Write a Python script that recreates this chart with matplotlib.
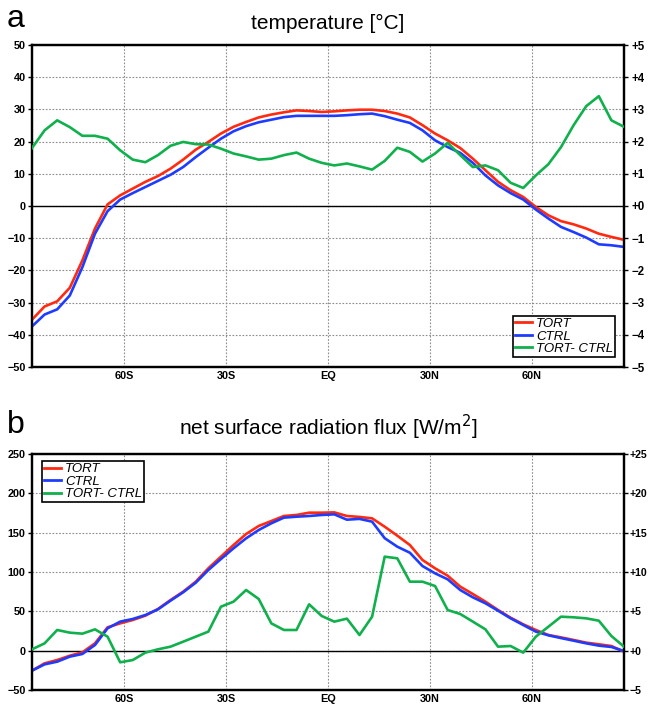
import numpy as np
import matplotlib
matplotlib.use("Agg")
import matplotlib.pyplot as plt
from matplotlib.lines import Line2D
from matplotlib.ticker import FuncFormatter

plt.rcParams['font.family'] = ['Liberation Sans', 'DejaVu Sans']

# latitude grid (48 points, ~3.7 deg apart)
lat = np.linspace(-87.1, 87.1, 48)

# panel a: surface temperature [degC]
tort_t = [-35.3, -31.2, -29.6, -25.4, -16.9, -7.0, 0.5, 3.3, 5.4, 7.5, 9.3, 11.6,
          14.4, 17.5, 19.9, 22.5, 24.6, 26.1, 27.5, 28.4, 29.1, 29.7, 29.5, 29.2,
          29.4, 29.7, 29.9, 29.9, 29.5, 28.7, 27.5, 25.1, 22.5, 20.4, 18.0, 14.7,
          11.1, 7.5, 4.9, 2.8, -0.3, -2.9, -4.7, -5.7, -7.0, -8.6, -9.6, -10.5]
ctrl_t = [-37.4, -33.7, -32.1, -27.8, -19.0, -8.6, -1.6, 2.0, 4.0, 5.9, 7.8, 9.7,
          12.1, 15.2, 18.1, 20.9, 23.2, 24.8, 26.0, 26.8, 27.6, 28.0, 28.0, 28.0,
          28.0, 28.2, 28.5, 28.7, 27.9, 26.8, 25.8, 23.5, 20.4, 18.3, 16.5, 13.4,
          9.5, 6.4, 4.0, 2.0, -1.1, -3.9, -6.5, -8.1, -9.8, -11.9, -12.2, -12.7]
diff_t = [1.80, 2.35, 2.66, 2.45, 2.18, 2.18, 2.09, 1.73, 1.44, 1.36, 1.58, 1.87,
          1.99, 1.92, 1.91, 1.78, 1.63, 1.54, 1.44, 1.47, 1.58, 1.66, 1.47, 1.34,
          1.26, 1.32, 1.23, 1.13, 1.40, 1.81, 1.68, 1.38, 1.63, 1.96, 1.58, 1.21,
          1.26, 1.11, 0.72, 0.56, 0.95, 1.30, 1.83, 2.51, 3.10, 3.41, 2.66, 2.46]

# panel b: net surface radiation flux [W/m2]
tort_r = [-25.4, -16.1, -11.9, -6.4, -2.1, 9.3, 29.7, 34.7, 39.0, 44.5, 53.0, 64.4,
          75.0, 87.7, 104.7, 119.5, 134.3, 148.3, 158.5, 164.8, 171.2, 172.5, 175.4, 175.4,
          175.8, 171.2, 170.0, 168.2, 157.6, 146.2, 134.3, 115.3, 104.7, 95.3, 81.4, 72.0,
          62.3, 51.7, 41.9, 33.5, 26.3, 19.9, 16.9, 13.6, 10.2, 8.1, 5.9, -1.3]
ctrl_r = [-25.4, -17.4, -14.0, -7.6, -4.2, 7.2, 28.4, 36.9, 40.3, 45.3, 52.5, 63.6,
          74.2, 86.4, 102.5, 116.5, 130.1, 142.8, 153.4, 161.9, 169.1, 170.3, 171.2, 172.5,
          173.3, 166.5, 167.5, 164.0, 143.0, 132.2, 124.5, 107.6, 98.3, 90.7, 77.1, 67.8,
          60.2, 50.8, 41.1, 32.6, 24.2, 19.5, 16.0, 12.7, 9.3, 6.4, 4.7, -0.5]
diff_r = [0.17, 0.93, 2.63, 2.29, 2.16, 2.71, 1.78, -1.48, -1.19, -0.25, 0.17, 0.51,
          1.14, 1.78, 2.42, 5.59, 6.23, 7.71, 6.57, 3.47, 2.63, 2.63, 5.89, 4.41,
          3.69, 4.07, 1.99, 4.32, 11.95, 11.74, 8.77, 8.77, 8.22, 5.17, 4.66, 3.69,
          2.71, 0.51, 0.59, -0.25, 1.78, 3.05, 4.32, 4.24, 4.11, 3.81, 1.86, 0.51]

xticks = [-60, -30, 0, 30, 60]
xlabels = ['60S', '30S', 'EQ', '30N', '60N']

RED, BLUE, GREEN = '#ff2a10', '#1e3cff', '#10b04c'
W, H = 649, 704


def fmt_left(v, pos):
    return f"{int(round(v))}".replace('-', '\u2212')


def fmt_right(v, pos):
    return f"{int(round(v)):+d}".replace('-', '\u2212')


def panel(rect, letter, title, tort, ctrl, diff, ylim, ystep, ylim2,
          leg_loc, leg_anchor, title_off, letter_off, rsize, rpad):
    ax = fig.add_axes(rect)
    ax.plot(lat, tort, color=RED, lw=1.9, zorder=3)
    ax.plot(lat, ctrl, color=BLUE, lw=1.9, zorder=3)
    ax.axhline(0, color='black', lw=1.0, zorder=2)
    ax.set_xlim(-87.1, 87.1)
    ax.set_ylim(*ylim)
    ax.set_yticks(np.arange(ylim[0], ylim[1] + 1, ystep))
    ax.set_xticks(xticks)
    ax.set_xticklabels(xlabels)
    ax.yaxis.set_major_formatter(FuncFormatter(fmt_left))
    ax.grid(True, color='#8c8c8c', lw=0.8, ls=(0, (1.5, 1.5)))
    ax.tick_params(axis='x', length=0, pad=3, labelsize=7.8)
    ax.tick_params(axis='y', direction='out', length=3, width=1, pad=1.5, labelsize=7.8)
    for lab in ax.get_xticklabels() + ax.get_yticklabels():
        lab.set_fontweight('bold')
    for s in ax.spines.values():
        s.set_linewidth(1.6)

    ax2 = ax.twinx()
    ax2.plot(lat, diff, color=GREEN, lw=1.9, zorder=3)
    ax2.set_ylim(*ylim2)
    ax2.set_yticks(np.linspace(ylim2[0], ylim2[1], len(ax.get_yticks())))
    ax2.yaxis.set_major_formatter(FuncFormatter(fmt_right))
    ax2.tick_params(axis='y', direction='out', length=3, width=1, pad=rpad, labelsize=rsize)
    for lab in ax2.get_yticklabels():
        lab.set_fontweight('bold')
    for s in ax2.spines.values():
        s.set_linewidth(1.6)

    handles = [Line2D([], [], color=RED, lw=2.0),
               Line2D([], [], color=BLUE, lw=2.0),
               Line2D([], [], color=GREEN, lw=2.0)]
    leg = ax2.legend(handles, ['TORT', 'CTRL', 'TORT- CTRL'], loc=leg_loc,
                     bbox_to_anchor=leg_anchor, fancybox=False, framealpha=1,
                     edgecolor='black', prop={'size': 9.5, 'style': 'italic'},
                     handlelength=1.3, handletextpad=0.3, labelspacing=0.02,
                     borderpad=0.15, borderaxespad=0)
    leg.get_frame().set_linewidth(1.2)

    x0 = rect[0] + rect[2] / 2
    top = rect[1] + rect[3]
    fig.text(x0, top + title_off / H, title, ha='center', va='baseline', fontsize=15)
    fig.text(7 / W, top + letter_off / H, letter, ha='left', va='baseline', fontsize=23)
    return ax


fig = plt.figure(figsize=(W / 100, H / 100), dpi=100)

panel([32 / W, (H - 367) / H, 592 / W, 322 / H], 'a', 'temperature [\u00b0C]',
      tort_t, ctrl_t, diff_t, (-50, 50), 10, (-5, 5),
      'lower right', ((615 - 32) / 592, (367 - 357) / 322), 16, 18, 8.3, 2.5)

panel([32 / W, (H - 690) / H, 592 / W, 236 / H], 'b', 'net surface radiation flux [W/m$^2$]',
      tort_r, ctrl_r, diff_r, (-50, 250), 50, (-5, 25),
      'upper left', ((42 - 32) / 592, (690 - 461) / 236), 19, 21, 7.6, 1.0)

fig.savefig('out.png', dpi=100)
